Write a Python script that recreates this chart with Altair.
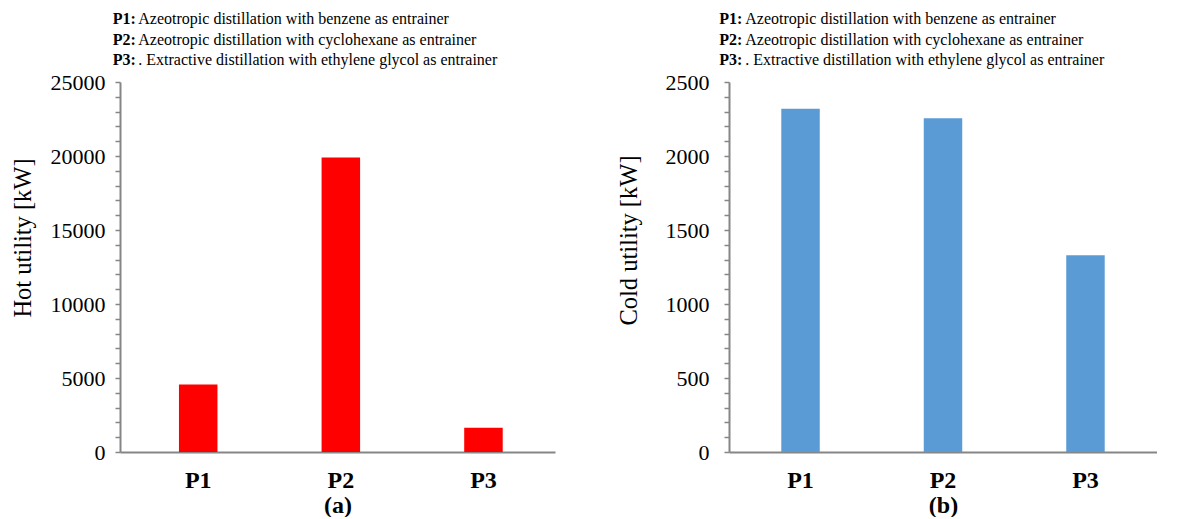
import altair as alt
import pandas as pd

# Process labels and utility demands (kW)
processes = ["P1", "P2", "P3"]
hot_utility = [4560, 19900, 1640]
cold_utility = [2320, 2255, 1330]

# Legend-style notes printed above each panel
note_keys = ["P1:", "P2:", "P3:"]
note_texts = [
    "Azeotropic distillation with benzene as entrainer",
    "Azeotropic distillation with cyclohexane as entrainer",
    ". Extractive distillation with ethylene glycol as entrainer",
]

# Axis tick positions (labels shown only on the major ones)
hot_ticks = list(range(0, 25001, 1000))
cold_ticks = list(range(0, 2501, 100))

FONT = "Liberation Serif"
AXIS_GREY = "#868686"
NOTE_SIZE = 16

df = pd.DataFrame({"process": processes, "hot": hot_utility, "cold": cold_utility})
notes = pd.DataFrame({"keys": ["\n".join(note_keys)], "texts": ["\n".join(note_texts)]})


def panel(field, color, ticks, major, ymax, ytitle, xtitle, width,
          title_x, title_y, label_pad, note_x, note_text_x, pad_outer, align):
    x = alt.X(
        "process:N",
        sort=processes,
        scale=alt.Scale(paddingInner=0.73, paddingOuter=pad_outer, align=align),
        axis=alt.Axis(
            title=xtitle,
            labelAngle=0,
            ticks=False,
            domainColor=AXIS_GREY,
            domainWidth=2,
            labelFont=FONT,
            labelFontSize=24,
            labelFontWeight="bold",
            labelColor="black",
            labelPadding=16,
            titleFont=FONT,
            titleFontSize=24,
            titleFontWeight="bold",
            titleColor="black",
            titleY=53,
            titleBaseline="middle",
        ),
    )
    y = alt.Y(
        f"{field}:Q",
        scale=alt.Scale(domain=[0, ymax], nice=False),
        axis=alt.Axis(
            title=ytitle,
            values=ticks,
            labelExpr=f"datum.value % {major} === 0 ? format(datum.value, 'd') : ''",
            grid=False,
            domainColor=AXIS_GREY,
            domainWidth=2,
            tickColor=AXIS_GREY,
            tickWidth=1.5,
            tickSize=5,
            labelFont=FONT,
            labelFontSize=22,
            labelColor="black",
            labelPadding=label_pad,
            labelBaseline="middle",
            titleFont=FONT,
            titleFontSize=24.5,
            titleFontWeight="normal",
            titleColor="black",
            titleX=title_x,
            titleY=title_y,
            titleAngle=270,
            titleAlign="center",
            titleBaseline="middle",
        ),
    )
    bars = alt.Chart(df).mark_bar(color=color).encode(x=x, y=y)

    keys = alt.Chart(notes).mark_text(
        font=FONT, fontSize=NOTE_SIZE, fontWeight="bold", align="left",
        baseline="alphabetic", lineBreak="\n", lineHeight=20.7, color="black",
    ).encode(text="keys:N", x=alt.value(note_x), y=alt.value(-58))

    texts = alt.Chart(notes).mark_text(
        font=FONT, fontSize=NOTE_SIZE, align="left",
        baseline="alphabetic", lineBreak="\n", lineHeight=20.7, color="black",
    ).encode(text="texts:N", x=alt.value(note_text_x), y=alt.value(-58))

    return alt.layer(bars, keys, texts).properties(width=width, height=370)


left = panel("hot", "#FF0000", hot_ticks, 5000, 25000, "Hot utility [kW]", "(a)",
             435, -97, 155.5, 10, -7.3, 18.3, 0.39, 0.53)
right = panel("cold", "#5B9BD5", cold_ticks, 500, 2500, "Cold utility [kW]", "(b)",
              428, -100, 158, 15, -9.7, 16.3, 0.367, 0.5)

chart = alt.hconcat(left, right, spacing=174, bounds="flush").properties(
    padding={"left": 10, "top": 11, "right": 0, "bottom": 0},
    background="white",
).configure_view(stroke=None)

chart.save("out.html", embed_options={"renderer": "svg", "actions": False})
